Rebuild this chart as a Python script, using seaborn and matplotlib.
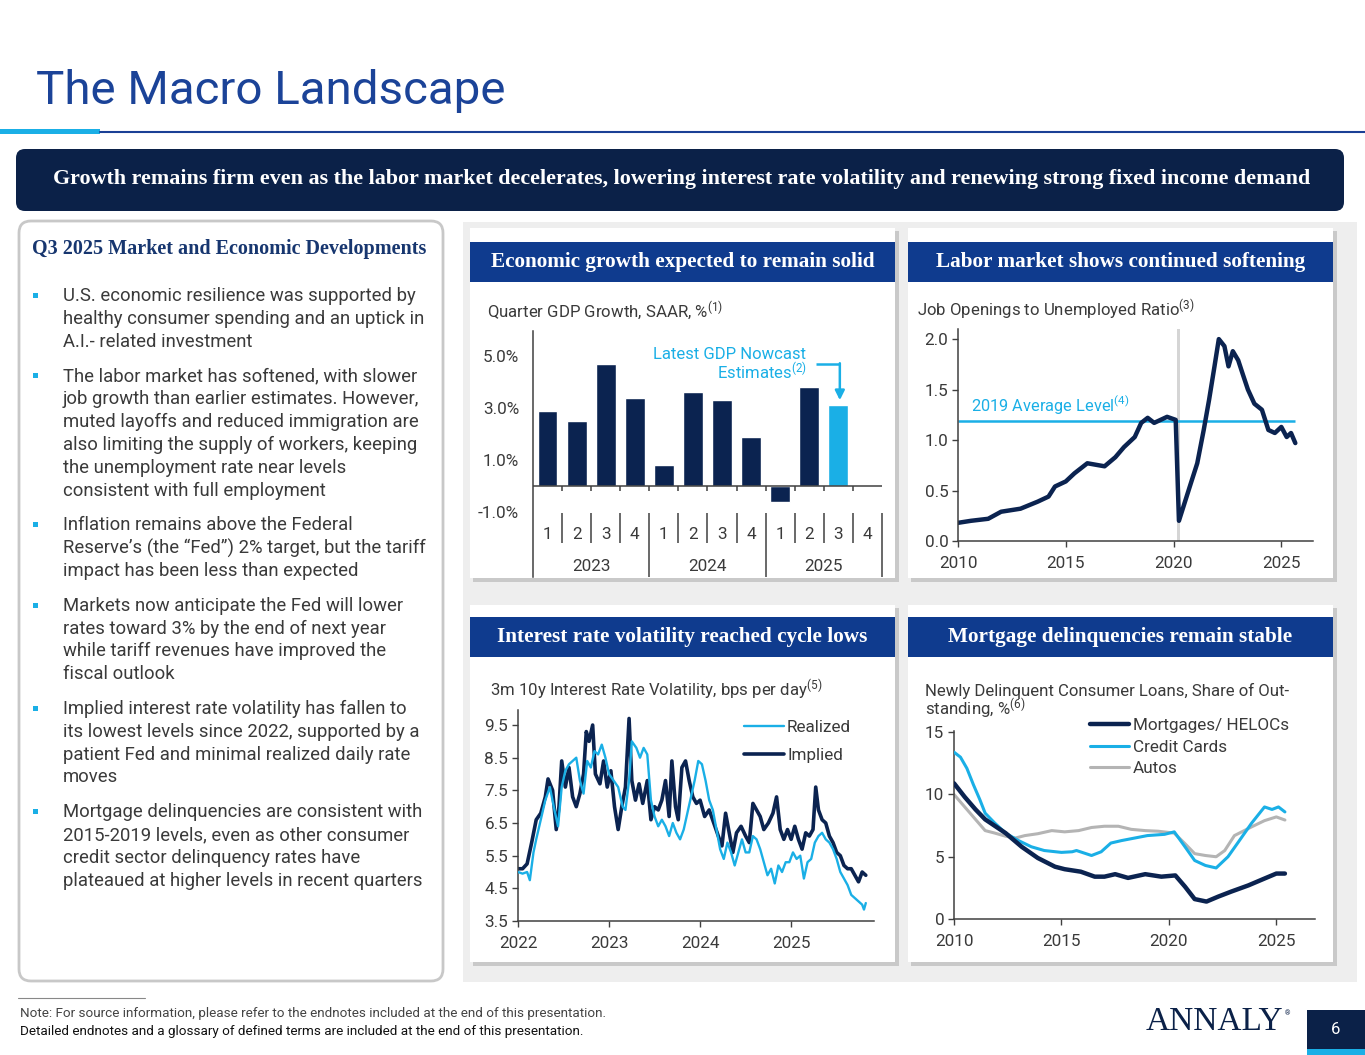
import numpy as np
import pandas as pd
import matplotlib
matplotlib.use('Agg')
import matplotlib.pyplot as plt
import seaborn as sns
from matplotlib.patches import FancyBboxPatch, Rectangle

# colours
NAVY = '#0b2350'
BLUE = '#0f3b8e'
SKY = '#1aafe6'
GREY = '#b4b4b4'
TXT = '#3a3a3a'
SERIF = ['Liberation Serif', 'DejaVu Serif']

# ---------------- data ----------------
# GDP growth, SAAR %
gdp_years = ['2023', '2024', '2025']
gdp_quarters = ['1', '2', '3', '4']
gdp_values = [2.9, 2.5, 4.7, 3.4, 0.8, 3.6, 3.3, 1.9, -0.6, 3.8, 3.1]   # 2025 Q3 = nowcast
gdp_nowcast = 10

# job openings / unemployed
labor_t = [2010.0, 2010.6, 2011.4, 2012.0, 2012.9, 2013.7, 2014.2, 2014.5, 2015.0, 2015.4,
           2016.0, 2016.8, 2017.3, 2017.7, 2018.2, 2018.5, 2018.8, 2019.1, 2019.7, 2020.1,
           2020.25, 2020.8, 2021.1, 2021.4, 2021.65, 2021.9, 2022.1, 2022.36, 2022.55, 2022.75,
           2023.0, 2023.2, 2023.45, 2023.75, 2024.1, 2024.4, 2024.7, 2025.0, 2025.25, 2025.45,
           2025.65]
labor_v = [0.18, 0.20, 0.22, 0.29, 0.32, 0.39, 0.44, 0.54, 0.59, 0.67,
           0.77, 0.74, 0.83, 0.93, 1.03, 1.17, 1.22, 1.17, 1.23, 1.20,
           0.20, 0.57, 0.77, 1.10, 1.40, 1.73, 2.00, 1.93, 1.73, 1.88,
           1.79, 1.66, 1.50, 1.36, 1.30, 1.10, 1.07, 1.13, 1.03, 1.07,
           0.97]
labor_avg_2019 = 1.19

# 3m10y rate volatility, bps per day
implied_t = [2022.00, 2022.05, 2022.10, 2022.15, 2022.20, 2022.25, 2022.30, 2022.33, 2022.38, 2022.42,
             2022.45, 2022.48, 2022.52, 2022.56, 2022.60, 2022.64, 2022.68, 2022.72, 2022.75, 2022.78,
             2022.82, 2022.85, 2022.90, 2022.94, 2022.98, 2023.02, 2023.06, 2023.10, 2023.14, 2023.18,
             2023.22, 2023.25, 2023.29, 2023.33, 2023.37, 2023.42, 2023.46, 2023.50, 2023.54, 2023.58,
             2023.62, 2023.66, 2023.69, 2023.73, 2023.76, 2023.80, 2023.84, 2023.88, 2023.92, 2023.96,
             2024.00, 2024.05, 2024.10, 2024.15, 2024.20, 2024.24, 2024.28, 2024.32, 2024.36, 2024.40,
             2024.45, 2024.50, 2024.54, 2024.58, 2024.62, 2024.66, 2024.70, 2024.75, 2024.80, 2024.84,
             2024.88, 2024.92, 2024.96, 2025.00, 2025.04, 2025.08, 2025.12, 2025.16, 2025.20, 2025.24,
             2025.27, 2025.30, 2025.34, 2025.38, 2025.42, 2025.46, 2025.50, 2025.54, 2025.58, 2025.62,
             2025.66, 2025.70, 2025.74, 2025.78, 2025.82]
implied_v = [5.1, 5.1, 5.25, 5.9, 6.6, 6.8, 7.3, 7.85, 7.5, 6.3,
             7.0, 8.4, 7.6, 8.2, 7.3, 7.0, 7.4, 8.0, 9.3, 9.0,
             9.5, 8.0, 7.7, 8.4, 7.6, 8.1, 7.0, 6.3, 7.0, 7.6,
             9.7, 7.8, 7.2, 7.7, 7.1, 7.8, 6.6, 7.0, 6.9, 7.2,
             7.8, 6.7, 8.4, 7.0, 6.6, 8.2, 8.4, 7.8, 7.3, 7.1,
             7.2, 6.7, 6.9, 6.5, 6.1, 5.8, 6.8, 6.2, 5.6, 6.2,
             6.4, 6.1, 5.9, 7.1, 6.9, 6.7, 6.3, 6.5, 6.8, 7.3,
             6.3, 6.0, 6.3, 6.0, 6.4, 6.0, 5.7, 6.2, 6.1, 6.3,
             7.6, 6.9, 6.6, 6.5, 6.1, 5.9, 5.6, 5.5, 5.2, 5.1,
             5.1, 4.9, 4.7, 5.0, 4.9]
realized_t = [2022.00, 2022.05, 2022.10, 2022.13, 2022.17, 2022.20, 2022.25, 2022.30, 2022.35, 2022.40,
              2022.44, 2022.48, 2022.52, 2022.56, 2022.60, 2022.64, 2022.68, 2022.72, 2022.76, 2022.80,
              2022.84, 2022.88, 2022.92, 2022.96, 2023.00, 2023.05, 2023.10, 2023.15, 2023.18, 2023.22,
              2023.25, 2023.30, 2023.34, 2023.38, 2023.42, 2023.46, 2023.50, 2023.54, 2023.58, 2023.62,
              2023.66, 2023.70, 2023.74, 2023.78, 2023.82, 2023.86, 2023.90, 2023.94, 2023.98, 2024.02,
              2024.06, 2024.10, 2024.14, 2024.18, 2024.22, 2024.26, 2024.30, 2024.34, 2024.38, 2024.42,
              2024.46, 2024.50, 2024.54, 2024.58, 2024.62, 2024.66, 2024.70, 2024.74, 2024.78, 2024.82,
              2024.86, 2024.90, 2024.94, 2024.98, 2025.02, 2025.06, 2025.10, 2025.14, 2025.18, 2025.22,
              2025.26, 2025.30, 2025.34, 2025.38, 2025.42, 2025.46, 2025.50, 2025.54, 2025.58, 2025.62,
              2025.66, 2025.70, 2025.74, 2025.78, 2025.80, 2025.82]
realized_v = [5.0, 4.95, 5.0, 4.75, 5.6, 6.0, 6.6, 7.2, 7.6, 6.9,
              6.4, 7.6, 8.1, 8.3, 8.4, 8.5, 7.8, 7.4, 8.4, 8.2,
              8.7, 8.6, 8.9, 8.5, 8.0, 7.8, 7.6, 7.0, 6.9, 7.8,
              9.0, 8.8, 8.5, 8.8, 8.6, 7.2, 6.7, 6.4, 6.6, 6.4,
              6.1, 6.5, 6.2, 6.0, 6.3, 6.8, 7.3, 7.8, 8.4, 8.3,
              7.8, 7.2, 6.9, 6.3, 5.7, 5.4, 5.9, 5.6, 5.2, 5.6,
              6.0, 5.6, 5.6, 6.1, 6.0, 5.7, 5.3, 4.9, 5.1, 4.65,
              5.2, 5.0, 5.3, 5.3, 5.6, 5.4, 5.5, 4.8, 5.3, 5.4,
              5.9, 6.1, 6.2, 6.0, 5.9, 5.7, 5.4, 5.0, 4.8, 4.6,
              4.3, 4.2, 4.1, 4.0, 3.85, 4.05]

# newly delinquent consumer loans, %
mort_t = [2010.0, 2010.5, 2011.0, 2011.45, 2012.4, 2013.15, 2013.9, 2014.7, 2015.15, 2015.9,
          2016.55, 2017.0, 2017.5, 2018.1, 2018.9, 2019.65, 2020.3, 2020.75, 2021.2, 2021.75,
          2022.3, 2022.9, 2023.7, 2024.45, 2025.0, 2025.4]
mort_v = [10.9, 9.8, 8.8, 8.0, 6.9, 5.8, 4.9, 4.2, 4.0, 3.8,
          3.4, 3.4, 3.6, 3.3, 3.6, 3.4, 3.5, 2.6, 1.6, 1.4,
          1.8, 2.2, 2.7, 3.25, 3.65, 3.65]
card_t = [2010.0, 2010.3, 2010.6, 2010.9, 2011.2, 2011.45, 2011.9, 2012.4, 2013.0, 2013.6,
          2014.2, 2015.0, 2015.5, 2015.7, 2016.4, 2016.85, 2017.3, 2017.8, 2018.4, 2019.0,
          2019.8, 2020.25, 2020.75, 2021.2, 2021.7, 2022.2, 2022.75, 2023.2, 2023.85, 2024.45,
          2024.8, 2025.1, 2025.4]
card_v = [13.4, 13.0, 12.1, 10.8, 9.6, 8.5, 7.7, 6.9, 6.3, 5.8,
          5.5, 5.35, 5.4, 5.5, 5.1, 5.4, 6.1, 6.3, 6.5, 6.7,
          6.8, 7.0, 5.8, 4.7, 4.3, 4.1, 5.0, 6.1, 7.7, 9.0,
          8.8, 9.0, 8.6]
auto_t = [2010.0, 2010.5, 2010.9, 2011.45, 2011.9, 2012.4, 2012.85, 2013.3, 2013.9, 2014.55,
          2015.15, 2015.8, 2016.4, 2017.0, 2017.65, 2018.25, 2018.9, 2019.5, 2020.25, 2020.75,
          2021.2, 2021.7, 2022.2, 2022.6, 2023.05, 2023.85, 2024.45, 2025.0, 2025.4]
auto_v = [10.0, 9.0, 8.2, 7.1, 6.9, 6.65, 6.5, 6.7, 6.85, 7.1,
          7.0, 7.1, 7.35, 7.45, 7.45, 7.2, 7.1, 7.05, 6.9, 6.05,
          5.25, 5.1, 5.0, 5.5, 6.7, 7.4, 7.9, 8.2, 7.95]

bullets = [
    ["U.S. economic resilience was supported by", "healthy consumer spending and an uptick in",
     "A.I.- related investment"],
    ["The labor market has softened, with slower", "job growth than earlier estimates. However,",
     "muted layoffs and reduced immigration are", "also limiting the supply of workers, keeping",
     "the unemployment rate near levels", "consistent with full employment"],
    ["Inflation remains above the Federal", "Reserve\u2019s (the \u201cFed\u201d) 2% target, but the tariff",
     "impact has been less than expected"],
    ["Markets now anticipate the Fed will lower", "rates toward 3% by the end of next year",
     "while tariff revenues have improved the", "fiscal outlook"],
    ["Implied interest rate volatility has fallen to", "its lowest levels since 2022, supported by a",
     "patient Fed and minimal realized daily rate", "moves"],
    ["Mortgage delinquencies are consistent with", "2015-2019 levels, even as other consumer",
     "credit sector delinquency rates have", "plateaued at higher levels in recent quarters"],
]

# ---------------- setup ----------------
sns.set_theme(style='white')
plt.rcParams['font.family'] = ['Roboto', 'DejaVu Sans']
plt.rcParams['mathtext.fontset'] = 'custom'
plt.rcParams['mathtext.rm'] = 'Roboto'
plt.rcParams['mathtext.it'] = 'Roboto:italic'
plt.rcParams['mathtext.bf'] = 'Roboto:bold'

W, H = 1365, 1055
fig = plt.figure(figsize=(W / 100, H / 100), dpi=100)
bg = fig.add_axes([0, 0, 1, 1])
bg.set_xlim(0, W)
bg.set_ylim(H, 0)
bg.axis('off')


def box(x0, y0, x1, y1, fc, r=0, ec='none', lw=0, z=1):
    if r:
        p = FancyBboxPatch((x0 + r, y0 + r), x1 - x0 - 2 * r, y1 - y0 - 2 * r,
                           boxstyle=f'round,pad={r}', fc=fc, ec=ec, lw=lw, zorder=z)
    else:
        p = Rectangle((x0, y0), x1 - x0, y1 - y0, fc=fc, ec=ec, lw=lw, zorder=z)
    bg.add_patch(p)


def add_ax(x0, y0, x1, y1):
    ax = fig.add_axes([x0 / W, 1 - y1 / H, (x1 - x0) / W, (y1 - y0) / H])
    ax.set_facecolor('none')
    return ax


def style(ax):
    for s in ['top', 'right']:
        ax.spines[s].set_visible(False)
    for s in ['left', 'bottom']:
        ax.spines[s].set_color('#404040')
        ax.spines[s].set_linewidth(1.1)
    ax.tick_params(axis='both', labelsize=12.3, colors='#404040', labelcolor=TXT,
                   length=4, width=1, direction='out', left=True, bottom=True, pad=3)
    ax.tick_params(axis='x', pad=7)
    ax.set_xlabel('')
    ax.set_ylabel('')
    ax.grid(False)


# ---------------- page furniture ----------------
bg.text(36, 91, 'The Macro Landscape', fontsize=34.2, color='#1b4398', fontweight='normal', va='center')
box(0, 129, 100, 134, SKY)
bg.plot([100, W], [131.5, 131.5], color='#1a3f95', lw=1.5)

box(16, 149, 1344, 211, '#0b2148', r=9)
bg.text(682, 179, 'Growth remains firm even as the labor market decelerates, lowering interest rate '
        'volatility and renewing strong fixed income demand',
        family=SERIF, fontsize=15.8, fontweight='bold', color='white', ha='center', va='center', zorder=3)

# left text panel
box(19, 221, 443, 981, 'white', r=12, ec='#c8c8c8', lw=2)
bg.text(32, 249, 'Q3 2025 Market and Economic Developments', family=SERIF, fontweight='bold',
        fontsize=14.5, color='#17366f', va='center', zorder=3)
y = 296
for lines in bullets:
    box(33, y - 3, 38, y + 2, SKY, z=3)
    for ln in lines:
        bg.text(63, y, ln, fontsize=13.3, color=TXT, va='center', zorder=3)
        y += 22.9
    y += 11.6

# chart area
box(463, 222, 1357, 982, '#eeeeee')
cards = [(470, 228, 895, 578), (908, 228, 1333, 578), (470, 605, 895, 962), (908, 605, 1333, 962)]
heads = ['Economic growth expected to remain solid', 'Labor market shows continued softening',
         'Interest rate volatility reached cycle lows', 'Mortgage delinquencies remain stable']
for (x0, y0, x1, y1), head in zip(cards, heads):
    box(x0 + 3, y0 + 3, x1 + 4, y1 + 4, '#c9c9c9', z=1)
    box(x0, y0, x1, y1, 'white', z=2)
    hy0 = y0 + 14 if y0 < 300 else y0 + 12
    box(x0, hy0, x1, hy0 + 40, BLUE, z=3)
    bg.text((x0 + x1) / 2, hy0 + 20, head, family=SERIF, fontsize=15.3, fontweight='bold',
            color='white', ha='center', va='center', zorder=4)

# footer
bg.plot([18, 145], [998, 998], color='#888888', lw=0.8)
bg.text(20, 1014, 'Note: For source information, please refer to the endnotes included at the end of this presentation.',
        fontsize=9.7, color='#444444', va='center')
bg.text(20, 1031, 'Detailed endnotes and a glossary of defined terms are included at the end of this presentation.',
        fontsize=9.7, color='#111111', va='center')
bg.text(1214, 1022, 'ANNALY', family=SERIF, fontsize=24, color='#0b2148', ha='center', va='center')
bg.text(1285, 1014, '\u00ae', fontsize=5, color='#0b2148', va='center')
box(1307, 1010, W, 1049, '#0b2148')
box(1307, 1049, W, H, SKY)
bg.text(1336, 1030, '6', fontsize=12, color='white', ha='center', va='center')

# chart titles
bg.text(487, 311, 'Quarter GDP Growth, SAAR, %$^{\\mathregular{(1)}}$', fontsize=12.1, color=TXT, va='center', zorder=5)
bg.text(917, 310, 'Job Openings to Unemployed Ratio$^{\\mathregular{(3)}}$', fontsize=12.1, color=TXT, va='center', zorder=5)
bg.text(490, 690, '3m 10y Interest Rate Volatility, bps per day$^{\\mathregular{(5)}}$', fontsize=12.1, color=TXT, va='center', zorder=5)
bg.text(925, 691, 'Newly Delinquent Consumer Loans, Share of Out-', fontsize=12.1, color=TXT, va='center', zorder=5)
bg.text(925, 709, 'standing, %$^{\\mathregular{(6)}}$', fontsize=12.1, color=TXT, va='center', zorder=5)

# ---------------- GDP bars ----------------
ax1 = add_ax(533, 331, 882, 577)
slots = [f'{yr} Q{q}' for yr in gdp_years for q in gdp_quarters]
gdp_df = pd.DataFrame({'slot': slots[:len(gdp_values)], 'value': gdp_values})
pal = {s: (SKY if i == gdp_nowcast else NAVY) for i, s in enumerate(slots)}
sns.barplot(data=gdp_df, x='slot', y='value', hue='slot', palette=pal, order=slots,
            hue_order=slots, legend=False, width=0.68, errorbar=None, saturation=1, ax=ax1)
style(ax1)
ax1.spines['bottom'].set_visible(False)
ax1.set_xlim(-0.5, 11.5)
ax1.set_ylim(-3.5, 5.96)
ax1.set_yticks([-1, 1, 3, 5])
ax1.set_yticklabels([f'{v:.1f}%' for v in [-1, 1, 3, 5]])
ax1.set_xticks([])
ax1.tick_params(axis='y', length=0, pad=10)
ax1.hlines(0, -0.5, 11.5, color='#404040', lw=1.1, clip_on=False)
ax1.vlines(np.arange(0.5, 11.5, 1), -0.2, 0, color='#404040', lw=1.1)
ax1.vlines([0.5, 1.5, 2.5, 4.5, 5.5, 6.5, 8.5, 9.5, 10.5], -1.03, -2.2, color='#404040', lw=1.1)
ax1.vlines([3.5, 7.5, 11.5], -1.03, -3.5, color='#404040', lw=1.1, clip_on=False)
for i, s in enumerate(slots):
    ax1.text(i, -1.88, gdp_quarters[i % 4], fontsize=12.3, color=TXT, ha='center', va='center')
for j, yr in enumerate(gdp_years):
    ax1.text(4 * j + 1.5, -3.08, yr, fontsize=12.3, color=TXT, ha='center', va='center')
ax1.text(8.9, 5.04, 'Latest GDP Nowcast', fontsize=12, color=SKY, ha='right', va='center')
ax1.text(8.9, 4.38, 'Estimates$^{\\mathregular{(2)}}$', fontsize=12, color=SKY, ha='right', va='center')
ax1.plot([9.22, 10.05], [4.69, 4.69], color=SKY, lw=1.8, solid_capstyle='butt')
ax1.annotate('', xy=(10.05, 3.3), xytext=(10.05, 4.72),
             arrowprops=dict(arrowstyle='-|>', color=SKY, lw=1.8, mutation_scale=14, shrinkA=0, shrinkB=0))

# ---------------- labour ratio ----------------
ax2 = add_ax(958, 329, 1313, 541)
ax2.axvspan(2020.17, 2020.31, color='#d5d5d5', lw=0, zorder=0)
ax2.hlines(labor_avg_2019, 2010, 2025.65, color=SKY, lw=1.8, zorder=1)
sns.lineplot(x=labor_t, y=labor_v, color=NAVY, lw=3.2, ax=ax2, zorder=2)
style(ax2)
ax2.set_xlim(2010, 2026.47)
ax2.set_ylim(0, 2.1)
ax2.set_yticks([0, 0.5, 1.0, 1.5, 2.0])
ax2.set_yticklabels([f'{v:.1f}' for v in [0, 0.5, 1.0, 1.5, 2.0]])
ax2.set_xticks([2010, 2015, 2020, 2025])
ax2.set_xticklabels(['2010', '2015', '2020', '2025'])
ax2.text(2010.58, 1.34, '2019 Average Level$^{\\mathregular{(4)}}$', fontsize=11.8, color=SKY, va='center')

# ---------------- volatility ----------------
ax3 = add_ax(518, 710, 874, 921)
sns.lineplot(x=realized_t, y=realized_v, color=SKY, lw=1.7, ax=ax3, label='Realized', zorder=3)
sns.lineplot(x=implied_t, y=implied_v, color=NAVY, lw=2.6, ax=ax3, label='Implied', zorder=2)
style(ax3)
ax3.set_xlim(2022, 2025.91)
ax3.set_ylim(3.5, 9.96)
ax3.set_yticks(np.arange(3.5, 9.6, 1.0))
ax3.set_yticklabels([f'{v:.1f}' for v in np.arange(3.5, 9.6, 1.0)])
ax3.set_xticks([2022, 2023, 2024, 2025])
ax3.set_xticklabels(['2022', '2023', '2024', '2025'])
leg = ax3.legend(loc='upper right', bbox_to_anchor=(0.955, 0.985), frameon=False, fontsize=12.3,
                 handlelength=2.3, handletextpad=0.2, labelspacing=0.75, borderaxespad=0)
for t in leg.get_texts():
    t.set_color(TXT)

# ---------------- delinquencies ----------------
ax4 = add_ax(954, 731, 1315, 919)
sns.lineplot(x=mort_t, y=mort_v, color=NAVY, lw=3.2, ax=ax4, label='Mortgages/ HELOCs', zorder=4)
sns.lineplot(x=card_t, y=card_v, color=SKY, lw=2.2, ax=ax4, label='Credit Cards', zorder=3)
sns.lineplot(x=auto_t, y=auto_v, color=GREY, lw=2.2, ax=ax4, label='Autos', zorder=2)
style(ax4)
ax4.set_xlim(2010, 2026.8)
ax4.set_ylim(0, 15.1)
ax4.set_yticks([0, 5, 10, 15])
ax4.set_xticks([2010, 2015, 2020, 2025])
ax4.set_xticklabels(['2010', '2015', '2020', '2025'])
leg = ax4.legend(loc='upper left', bbox_to_anchor=(0.358, 1.105), frameon=False, fontsize=12.3,
                 handlelength=2.3, handletextpad=0.2, labelspacing=0.38, borderaxespad=0)
for t in leg.get_texts():
    t.set_color(TXT)

fig.savefig('out.png', dpi=100)
